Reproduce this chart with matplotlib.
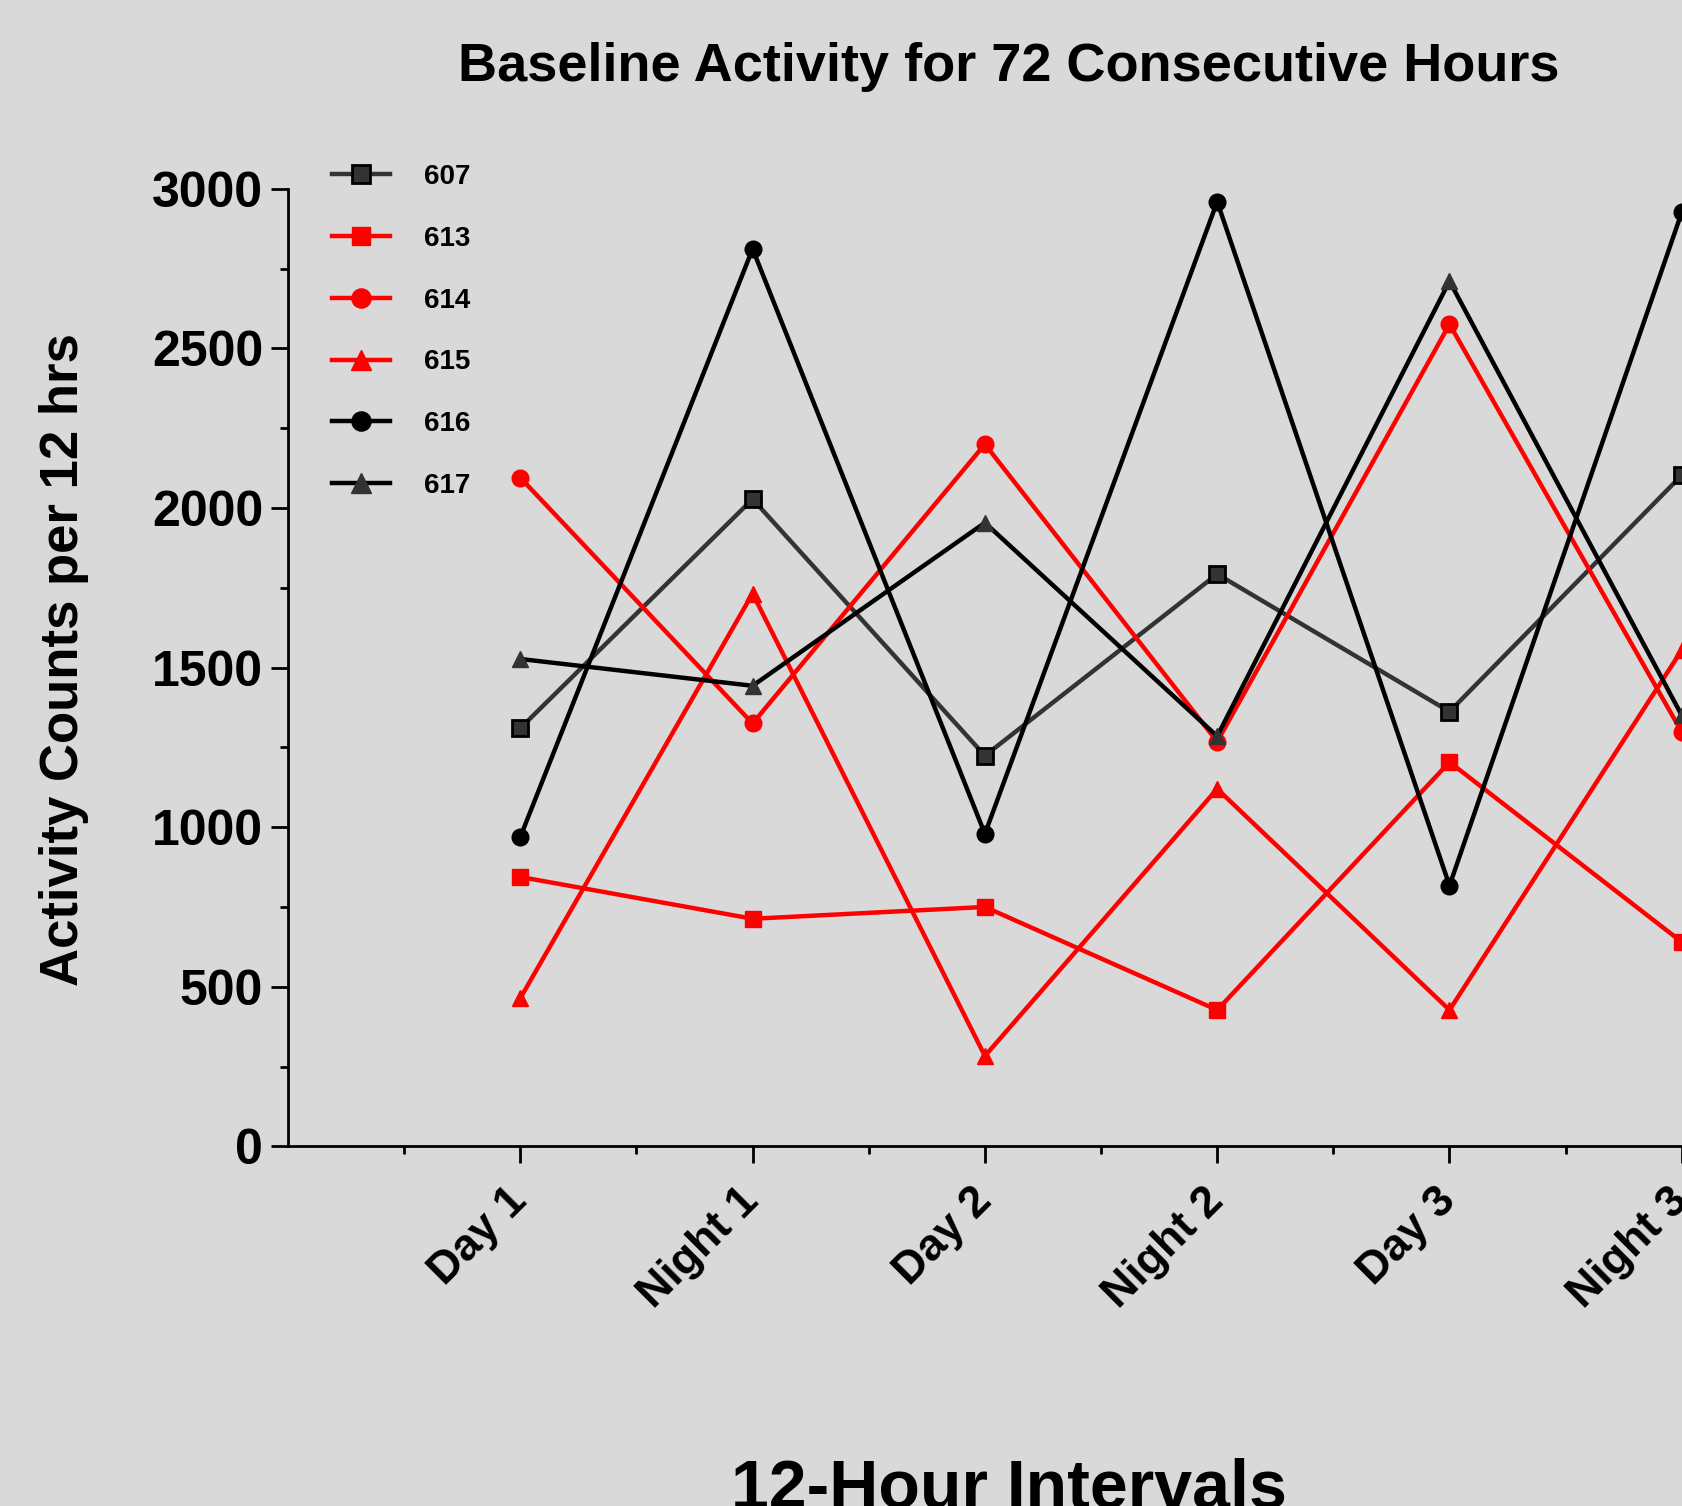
import matplotlib
matplotlib.use("Agg")
import matplotlib.pyplot as plt
from matplotlib.ticker import FixedLocator, MultipleLocator

categories = ["Day 1", "Night 1", "Day 2", "Night 2", "Day 3", "Night 3"]
s607 = [1310, 2028, 1224, 1793, 1362, 2103]
s613 = [844, 713, 750, 427, 1204, 640]
s614 = [2095, 1325, 2200, 1268, 2576, 1298]
s615 = [464, 1732, 283, 1120, 427, 1555]
s616 = [969, 2812, 979, 2960, 817, 2927]
s617 = [1527, 1443, 1954, 1285, 2711, 1350]
y_ticks = [0, 500, 1000, 1500, 2000, 2500, 3000]

BG = "#d9d9d9"
plt.rcParams['font.family'] = ['Liberation Sans', 'DejaVu Sans']
plt.rcParams['font.weight'] = 'bold'

W, H = 1683, 1506
fig = plt.figure(figsize=(W / 100, H / 100), dpi=100, facecolor=BG)
ax_left = 288 / W
ax_bottom = 1 - 1146.3 / H
ax_w = 7 * 232.3 / W
ax_h = 957.4 / H
ax = fig.add_axes([ax_left, ax_bottom, ax_w, ax_h], facecolor=BG)

x = list(range(1, len(categories) + 1))
series = [
    ("607", s607, dict(color="#333333", marker="s", mfc="#333333", mec="black", mew=2, ms=11)),
    ("613", s613, dict(color="#ff0000", marker="s", mfc="#ff0000", mec="#ff0000", ms=11)),
    ("614", s614, dict(color="#ff0000", marker="o", mfc="#ff0000", mec="#ff0000", ms=12)),
    ("615", s615, dict(color="#ff0000", marker="^", mfc="#ff0000", mec="#ff0000", ms=12)),
    ("616", s616, dict(color="black", marker="o", mfc="black", mec="black", ms=12)),
    ("617", s617, dict(color="black", marker="^", mfc="#333333", mec="#333333", ms=12)),
]
for name, vals, st in series:
    ax.plot(x, vals, lw=3.2, label=name, clip_on=False, **st)

ax.set_xlim(0, 7)
ax.set_ylim(0, 3000)
for s in ["top", "right"]:
    ax.spines[s].set_visible(False)
for s in ["left", "bottom"]:
    ax.spines[s].set_linewidth(2)

ax.set_yticks(y_ticks)
ax.yaxis.set_minor_locator(MultipleLocator(250))
ax.set_xticks(x)
ax.xaxis.set_minor_locator(FixedLocator([i + 0.5 for i in range(0, 7)]))
ax.tick_params(axis="both", which="major", length=12, width=2, direction="out")
ax.tick_params(axis="both", which="minor", length=6, width=2, direction="out")
ax.tick_params(axis="y", which="major", labelsize=36, pad=6)
ax.set_yticklabels([str(v) for v in y_ticks], fontweight="bold")
ax.set_xticklabels(categories, rotation=45, ha="right", va="center",
                   rotation_mode="anchor", fontsize=32, fontweight="bold")
ax.tick_params(axis="x", which="major", pad=23)

fig.text(64 / W, 1 - 660 / H, "Activity Counts per 12 hrs", rotation=90,
         ha="center", va="center", fontsize=38, fontweight="bold")
fig.text(1009 / W, 1 - 67 / H, "Baseline Activity for 72 Consecutive Hours",
         ha="center", va="center", fontsize=39, fontweight="bold")
fig.text(1009 / W, 1 - 1507 / H, "12-Hour Intervals",
         ha="center", va="baseline", fontsize=49, fontweight="bold")

leg = ax.legend(loc="upper left", bbox_to_anchor=(318 / W, 1 - 150 / H),
                bbox_transform=fig.transFigure, frameon=False,
                fontsize=20, handlelength=2.1, handletextpad=1.2,
                labelspacing=1.29, borderpad=0, markerscale=1.15)
for t in leg.get_texts():
    t.set_fontweight("bold")

fig.savefig("out.png", dpi=100, facecolor=BG)
